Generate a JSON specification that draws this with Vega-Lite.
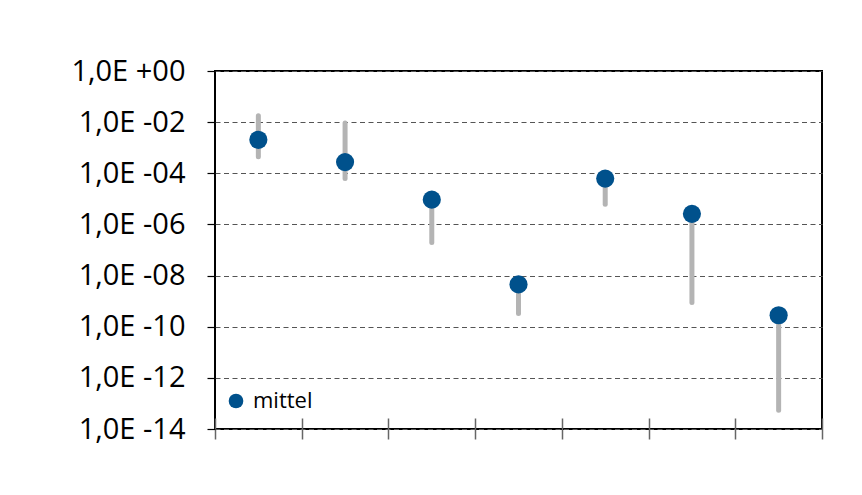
{
  "$schema": "https://vega.github.io/schema/vega-lite/v6.json",
  "width": 607,
  "height": 358,
  "autosize": {"type": "none"},
  "padding": {"left": 215, "top": 71, "right": 40, "bottom": 66},
  "background": "white",
  "config": {"view": {"stroke": "#000000", "strokeWidth": 2}, "font": "Open Sans"},
  "data": {
    "values": [
      {"k": 1, "mean": 2.04e-3, "lo": 4.47e-4, "hi": 1.78e-2, "s": "mittel"},
      {"k": 2, "mean": 2.75e-4, "lo": 6.2e-5, "hi": 9.3e-3, "s": "mittel"},
      {"k": 3, "mean": 9.3e-6, "lo": 1.95e-7, "hi": 9.3e-6, "s": "mittel"},
      {"k": 4, "mean": 4.5e-9, "lo": 3.3e-10, "hi": 4.5e-9, "s": "mittel"},
      {"k": 5, "mean": 6.2e-5, "lo": 6.2e-6, "hi": 6.2e-5, "s": "mittel"},
      {"k": 6, "mean": 2.6e-6, "lo": 8.9e-10, "hi": 2.6e-6, "s": "mittel"},
      {"k": 7, "mean": 2.8e-10, "lo": 5.4e-14, "hi": 2.8e-10, "s": "mittel"}
    ]
  },
  "encoding": {
    "x": {
      "field": "k",
      "type": "quantitative",
      "scale": {"domain": [0.5, 7.5], "nice": false, "zero": false},
      "axis": {
        "title": null,
        "values": [0.5, 1.5, 2.5, 3.5, 4.5, 5.5, 6.5, 7.5],
        "labels": false,
        "grid": false,
        "domain": false,
        "offset": -11,
        "tickSize": 21,
        "tickColor": "#666666",
        "tickWidth": 1.5
      }
    }
  },
  "layer": [
    {
      "mark": {"type": "rule", "strokeWidth": 5, "strokeCap": "round", "color": "#b4b4b4"},
      "encoding": {
        "y": {
          "field": "lo",
          "type": "quantitative",
          "scale": {"type": "log", "domain": [1e-14, 1], "nice": false},
          "axis": {
            "title": null,
            "values": [1, 1e-2, 1e-4, 1e-6, 1e-8, 1e-10, 1e-12, 1e-14],
            "grid": true,
            "gridDash": [5, 3.5],
            "gridColor": "#555555",
            "gridWidth": 1,
            "domain": false,
            "tickSize": 8,
            "tickColor": "#000000",
            "tickWidth": 1.2,
            "labelFontSize": 29,
            "labelColor": "#000000",
            "labelPadding": 22,
            "labelExpr": "'1,0E ' + (datum.value >= 1 ? '+' : '-') + pad(toString(abs(round(log(datum.value) / LN10))), 2, '0', 'left')"
          }
        },
        "y2": {"field": "hi"}
      }
    },
    {
      "mark": {"type": "circle", "size": 330, "opacity": 1},
      "encoding": {
        "y": {"field": "mean", "type": "quantitative"},
        "color": {
          "field": "s",
          "type": "nominal",
          "scale": {"range": ["#00518c"]},
          "legend": {
            "title": null,
            "orient": "none",
            "legendX": 10,
            "legendY": 319,
            "padding": 0,
            "symbolSize": 215,
            "symbolType": "circle",
            "labelFontSize": 22,
            "labelColor": "#000000",
            "labelOffset": 6
          }
        }
      }
    }
  ]
}
